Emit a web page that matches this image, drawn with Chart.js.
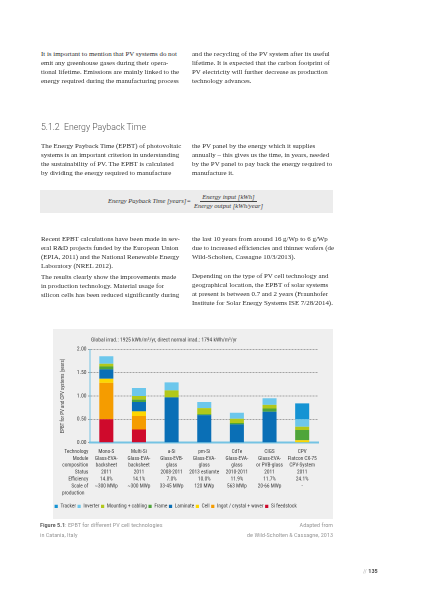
<!DOCTYPE html>
<html><head><meta charset="utf-8">
<script src="https://cdn.jsdelivr.net/npm/chart.js@4.4.1/dist/chart.umd.min.js"></script>
<style>
html,body{margin:0;padding:0;background:#fff;}
body{width:424px;height:600px;position:relative;overflow:hidden;}
.tx{position:absolute;white-space:nowrap;}
#formula{position:absolute;left:40px;top:190px;width:293px;height:23px;background:#ececec;display:flex;align-items:center;justify-content:center;font-family:"Liberation Serif",serif;font-style:italic;color:#333;line-height:1.05;}
#frac{display:inline-flex;flex-direction:column;align-items:center;margin-left:1px;}
#frac .num{padding:0 2px 0.5px;border-bottom:0.7px solid #444;}
#frac .den{padding:0.5px 2px 0;}
#chartbox{position:absolute;left:53px;top:329px;width:280px;height:190px;background:#efefef;}
</style></head>
<body>
<div id="formula"><span id="lhs">Energy Payback Time [years]=</span><span id="frac"><span class="num">Energy input [kWh]</span><span class="den">Energy output [kWh/year]</span></span></div>
<div id="chartbox"><canvas id="c" width="280" height="190"></canvas></div>
<script>
// ---------- chart data ----------
const categories = ['Mono-S','Multi-Si','a-Si','pm-Si','CdTe','CIGS','CPV'];
const moduleComposition = [['Glass-EVA-','backsheet'],['Glass-EVA-','backsheet'],['Glass-EVB-','glass'],['Glass-EVA-','glass'],['Glass-EVA-','glass'],['Glass-EVA-','or PVB-glass'],['Flatcon CX-75','CPV-System']];
const status = ['2011','2011','2008-2011','2013 estiamte','2010-2011','2011','2011'];
const efficiency = ['14.8%','14.1%','7.0%','10.0%','11.9%','11.7%','24.1%'];
const scaleOfProduction = ['~300 MWp','~300 MWp','33-45 MWp','120 MWp','563 MWp','20-66 MWp','-'];
const rowLabels = [['Technology'],['Module','composition'],['Status'],['Efficiency'],['Scale of','production']];
const seriesNames = ['Si feedstock','Ingot / crystal + waver','Cell','Laminate','Frame','Mounting + cabling','Inverter','Tracker'];
const siFeedstock = [0.50,0.28,0,0,0,0,0];
const ingot       = [0.78,0.29,0,0,0,0,0];
const cell        = [0.09,0.10,0,0,0,0,0.05];
const laminate    = [0.20,0.20,0.97,0.59,0.39,0.66,0];
const frame       = [0.06,0.05,0,0.02,0.03,0.07,0.22];
const mounting    = [0.06,0.08,0.15,0.13,0.09,0.08,0.07];
const inverter    = [0.16,0.17,0.17,0.13,0.13,0.14,0.16];
const tracker     = [0,0,0,0,0,0,0.34];
const yTicks = [0,0.5,1,1.5,2];
const chartTitle = 'Global irrad.: 1925 kWh/m²/yr, direct normal irrad.: 1794 kWh/m²/yr';
const yAxisTitle = 'EPBT for PV and CPV systems (years)';

// ---------- page text ----------
const serif = '"Liberation Serif","Times New Roman",serif';
const cond = '"Roboto Condensed","Liberation Sans Narrow","DejaVu Sans Condensed","Arial Narrow",sans-serif';
const mctx = document.createElement('canvas').getContext('2d');
function fit(text, font, target){ mctx.font = '100px ' + font; return 100*target/mctx.measureText(text).width; }
function fitI(text, font, target){ mctx.font = 'italic 100px ' + font; return 100*target/mctx.measureText(text).width; }
function place(text, x, y, size, family, color, opts){
  opts = opts || {};
  const d = document.createElement('div');
  d.className = 'tx'; d.textContent = text;
  d.style.font = (opts.weight||'normal') + ' ' + size + 'px/0 ' + family;
  d.style.color = color; d.style.top = y + 'px';
  if (opts.align === 'right') d.style.right = (424 - x) + 'px'; else d.style.left = x + 'px';
  document.body.appendChild(d);
  return d;
}
const bodySize = fit('and the recycling of the PV system after its useful', serif, 138);
const blocks = [
  {x:41, y:53.5, lh:9.3, lines:['It is important to mention that PV systems do not','emit any greenhouse gases during their opera-','tional lifetime. Emissions are mainly linked to the','energy required during the manufacturing process']},
  {x:192, y:53.5, lh:9.3, lines:['and the recycling of the PV system after its useful','lifetime. It is expected that the carbon footprint of','PV electricity will further decrease as production','technology advances.']},
  {x:41, y:146, lh:9, lines:['The Energy Payback Time (EPBT) of photovoltaic','systems is an important criterion in understanding','the sustainability of PV. The EPBT is calculated','by dividing the energy required to manufacture']},
  {x:192, y:146, lh:9, lines:['the PV panel by the energy which it supplies','annually \u2013 this gives us the time, in years, needed','by the PV panel to pay back the energy required to','manufacture it.']},
  {x:41, y:239, lh:9, lines:['Recent EPBT calculations have been made in sev-','eral R&D projects funded by the European Union','(EPIA, 2011) and the National Renewable Energy','Laboratory (NREL 2012).']},
  {x:192, y:239, lh:9, lines:['the last 10 years from around 16 g/Wp to 6 g/Wp','due to increased efficiencies and thinner wafers (de','Wild-Scholten, Cassagne 10/3/2013).']},
  {x:41, y:277, lh:9, lines:['The results clearly show the improvements made','in production technology. Material usage for','silicon cells has been reduced significantly during']},
  {x:192, y:276, lh:9, lines:['Depending on the type of PV cell technology and','geographical location, the EPBT of solar systems','at present is between 0.7 and 2 years (Fraunhofer','Institute for Solar Energy Systems ISE 7/28/2014).']}
];
blocks.forEach(b => b.lines.forEach((l,i) => place(l, b.x, b.y + i*b.lh, bodySize, serif, '#2f2f2f')));
const hFam = 'Roboto,"Liberation Sans",sans-serif';
const hSize = fit('5.1.2  Energy Payback Time', hFam, 107);
const h = place('5.1.2\u00a0\u00a0Energy Payback Time', 41, 127, hSize, hFam, '#555', {weight:'300'});

const fSize = fitI('Energy Payback Time [years]=', serif, 83);
document.getElementById('formula').style.fontSize = fSize + 'px';

// caption + page number
const capSize = fit('Figure 5.1: EPBT for different PV cell technologies', cond, 122);
const cap1 = place('', 40, 525, capSize, cond, '#9a9a9a');
cap1.innerHTML = '<b style="color:#666">Figure 5.1</b>: EPBT for different PV cell technologies';
place('in Catania, Italy', 40, 535, capSize, cond, '#9a9a9a');
place('Adapted from', 333, 525, capSize, cond, '#9a9a9a', {align:'right'});
place('de Wild-Scholten & Cassagne, 2013', 333, 535, capSize, cond, '#9a9a9a', {align:'right'});
const pn = place('', 363, 571, 6.2, cond, '#bbb');
pn.innerHTML = '// <b style="color:#555">135</b>';

// ---------- chart ----------
const colors = ['#cf0a2c','#f59c00','#fdd600','#0a6fb6','#4fa53a','#b2c81a','#6cc7ec','#1593d3'];
const seriesData = [siFeedstock, ingot, cell, laminate, frame, mounting, inverter, tracker];
const labels = categories.map((c,i) => [c, moduleComposition[i][0], moduleComposition[i][1], status[i], efficiency[i], scaleOfProduction[i]]);
const tickPad = 5.5, lineH = 6.9, tickSize = 5.3;
const textCol = '#3a3a3a';

const overlay = {
  id: 'overlay',
  afterDraw(chart) {
    const {ctx, chartArea, scales: {x}} = chart;
    ctx.save();
    ctx.fillStyle = textCol;
    ctx.textBaseline = 'middle';
    ctx.font = '5.5px ' + cond;
    ctx.textAlign = 'left';
    ctx.fillText(chartTitle, chartArea.left + 1, 11);
    ctx.font = tickSize + 'px ' + cond;
    let line = 0;
    const y0 = x.top + tickPad + lineH/2;
    rowLabels.forEach(r => r.forEach((t, j) => {
      const y = y0 + line*lineH;
      if (j === 1 && r[0] === 'Scale of') { ctx.textAlign = 'left'; ctx.fillText(t, 9, y); }
      else { ctx.textAlign = 'right'; ctx.fillText(t, chartArea.left - 1.7, y); }
      line++;
    }));
    ctx.restore();
  }
};

new Chart(document.getElementById('c'), {
  type: 'bar',
  data: {
    labels: labels,
    datasets: seriesNames.map((n,i) => ({label: n, data: seriesData[i], backgroundColor: colors[i], borderWidth: 0, categoryPercentage: 1, barPercentage: 0.43}))
  },
  plugins: [overlay],
  options: {
    responsive: false, animation: false, devicePixelRatio: 2,
    layout: {padding: {top: 20.3, right: 0, bottom: 0, left: 0}},
    plugins: {
      legend: {position: 'bottom', align: 'start', reverse: true,
        labels: {boxWidth: 3.2, boxHeight: 3.2, padding: 1.6, color: textCol, font: {size: 5.3, family: cond}}},
      tooltip: {enabled: false},
      title: {display: false}
    },
    scales: {
      x: {stacked: true, offset: true,
        grid: {display: false, drawTicks: false},
        border: {display: true, color: '#74c3e3', width: 2},
        ticks: {color: textCol, font: {size: tickSize, family: cond, lineHeight: lineH + 'px'}, padding: tickPad, maxRotation: 0, autoSkip: false},
        afterFit: s => { s.height = 59.5; }
      },
      y: {stacked: true, min: 0, max: 2,
        afterBuildTicks: s => { s.ticks = yTicks.map(v => ({value: v})); },
        ticks: {color: textCol, font: {size: 5.5, family: cond}, padding: 1.5, callback: v => Number(v).toFixed(2)},
        grid: {color: '#8a8a8a', lineWidth: 0.8, drawTicks: true, tickLength: 2, tickColor: '#8a8a8a'},
        border: {display: true, color: '#74c3e3', width: 1, dash: [2, 1]},
        title: {display: true, text: yAxisTitle, color: textCol, font: {size: 5, family: cond}, padding: {top: 6.5, bottom: 0}},
        afterFit: s => { s.width = 37; }
      },
      yR: {position: 'right', display: true,
        grid: {display: false, drawTicks: false}, border: {display: false}, ticks: {display: false},
        afterFit: s => { s.width = 14.5; }
      }
    }
  }
});
</script>
</body></html>
